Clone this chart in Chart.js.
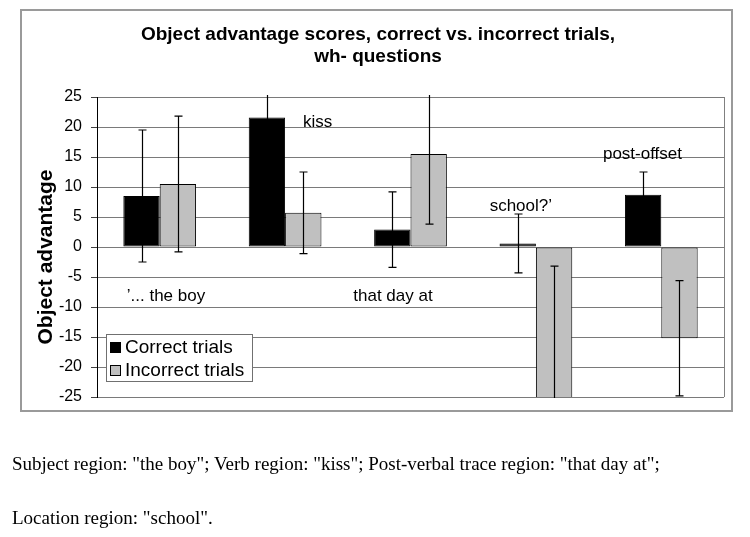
<!DOCTYPE html>
<html>
<head>
<meta charset="utf-8">
<script src="https://cdn.jsdelivr.net/npm/chart.js@4/dist/chart.umd.min.js"></script>
<style>
  html, body { margin: 0; padding: 0; background: #fff; }
  #wrap { position: relative; width: 750px; height: 537px; overflow: hidden; }
  canvas { position: absolute; left: 0; top: 0; }
  .cap { position: absolute; left: 12px; font-family: "Liberation Serif", "Times New Roman", serif; font-size: 19px; line-height: 19px; color: #000; white-space: nowrap; }
</style>
</head>
<body>
<div id="wrap">
  <canvas id="c" width="750" height="537"></canvas>
  <div class="cap" style="top:454px;">Subject region: "the boy"; Verb region: "kiss"; Post-verbal trace region: "that day at";</div>
  <div class="cap" style="top:508px;">Location region: "school".</div>
</div>
<script>
// ---- data ----
const categories = ["1", "2", "3", "4", "5"];
const seriesNames = ["Correct trials", "Incorrect trials"];
const correctValues = [8.5, 21.6, 2.9, 0.6, 8.7];
const incorrectValues = [10.5, 5.7, 15.5, -27, -15.2];
const correctErrors = [11.0, 11.0, 6.3, 4.9, 3.8];
const incorrectErrors = [11.3, 6.8, 11.7, 23.8, 9.6];
const yTicks = [25, 20, 15, 10, 5, 0, -5, -10, -15, -20, -25];
const titleLines = ["Object advantage scores, correct vs. incorrect trials,", "wh- questions"];
const yAxisTitle = "Object advantage";
// sentence-region labels placed in data coordinates (category index, value)
const wordLabels = ["\u2019... the boy", "kiss", "that day at", "school?\u2019", "post-offset"];
const wordLabelX = [0.05, 1.26, 1.86, 2.88, 3.85];
const wordLabelY = [-8.3, 20.8, -8.3, 6.8, 15.5];

const SANS = '"Liberation Sans", Arial, sans-serif';

const decor = {
  id: 'decor',
  beforeDraw(chart) {
    const ctx = chart.ctx;
    ctx.save();
    ctx.fillStyle = '#fff';
    ctx.fillRect(0, 0, chart.width, chart.height);
    ctx.strokeStyle = '#9a9a9a';
    ctx.lineWidth = 2;
    ctx.strokeRect(21, 10, 711, 401);
    ctx.restore();
  },
  afterDatasetsDraw(chart) {
    const ctx = chart.ctx;
    const ya = chart.scales.y;
    const area = chart.chartArea;
    const errs = [correctErrors, incorrectErrors];
    const vals = [correctValues, incorrectValues];
    ctx.save();
    ctx.beginPath();
    ctx.rect(area.left, area.top - 2, area.right - area.left, area.bottom - area.top + 3);
    ctx.clip();
    ctx.strokeStyle = '#000';
    ctx.lineWidth = 1.2;
    for (let d = 0; d < 2; d++) {
      const meta = chart.getDatasetMeta(d);
      meta.data.forEach((bar, i) => {
        const x = Math.round(bar.x) + 0.5;
        const yTop = ya.getPixelForValue(vals[d][i] + errs[d][i]);
        const yBot = ya.getPixelForValue(vals[d][i] - errs[d][i]);
        ctx.beginPath();
        ctx.moveTo(x, yTop); ctx.lineTo(x, yBot);
        ctx.moveTo(x - 4, yTop); ctx.lineTo(x + 4, yTop);
        ctx.moveTo(x - 4, yBot); ctx.lineTo(x + 4, yBot);
        ctx.stroke();
      });
    }
    ctx.restore();
  },
  afterDraw(chart) {
    const ctx = chart.ctx;
    const area = chart.chartArea;
    const xa = chart.scales.x;
    const ya = chart.scales.y;
    ctx.save();
    // right border of plot
    ctx.strokeStyle = '#808080';
    ctx.lineWidth = 1;
    ctx.beginPath();
    ctx.moveTo(Math.round(area.right) + 0.5, area.top);
    ctx.lineTo(Math.round(area.right) + 0.5, area.bottom);
    ctx.stroke();

    // title
    ctx.fillStyle = '#000';
    ctx.textAlign = 'center';
    ctx.textBaseline = 'alphabetic';
    ctx.font = 'bold 19px ' + SANS;
    ctx.fillText(titleLines[0], 378, 40);
    ctx.fillText(titleLines[1], 378, 62);

    // y axis title
    ctx.save();
    ctx.translate(52, 257);
    ctx.rotate(-Math.PI / 2);
    ctx.font = 'bold 21px ' + SANS;
    ctx.textAlign = 'center';
    ctx.textBaseline = 'alphabetic';
    ctx.fillText(yAxisTitle, 0, 0);
    ctx.restore();

    // word labels
    ctx.font = '17px ' + SANS;
    ctx.textAlign = 'center';
    ctx.textBaseline = 'middle';
    wordLabels.forEach((t, i) => {
      ctx.fillText(t, xa.getPixelForValue(wordLabelX[i]), ya.getPixelForValue(wordLabelY[i]));
    });

    // legend
    ctx.fillStyle = '#fff';
    ctx.fillRect(106, 334, 146, 47);
    ctx.strokeStyle = '#707070';
    ctx.lineWidth = 1;
    ctx.strokeRect(106.5, 334.5, 146, 47);
    const colors = ['#000', '#c0c0c0'];
    const rows = [347, 370];
    ctx.font = '19px ' + SANS;
    ctx.textAlign = 'left';
    ctx.textBaseline = 'middle';
    for (let k = 0; k < 2; k++) {
      ctx.fillStyle = colors[k];
      ctx.fillRect(110, rows[k] - 5, 11, 11);
      ctx.strokeStyle = '#000';
      ctx.strokeRect(110.5, rows[k] - 4.5, 10, 10);
      ctx.fillStyle = '#000';
      ctx.fillText(seriesNames[k], 125, rows[k] + 1);
    }
    ctx.restore();
  }
};

new Chart(document.getElementById('c'), {
  type: 'bar',
  data: {
    labels: categories,
    datasets: [
      { label: seriesNames[0], data: correctValues, backgroundColor: '#000', borderColor: '#000', borderWidth: 1, borderSkipped: false },
      { label: seriesNames[1], data: incorrectValues, backgroundColor: '#c0c0c0', borderColor: '#000', borderWidth: 1, borderSkipped: false }
    ]
  },
  options: {
    responsive: false,
    animation: false,
    devicePixelRatio: 1,
    layout: { padding: { left: 0, right: 26, top: 97, bottom: 140 } },
    datasets: { bar: { categoryPercentage: 0.58, barPercentage: 1.0 } },
    plugins: { legend: { display: false }, title: { display: false }, tooltip: { enabled: false } },
    scales: {
      x: { display: false, offset: true, grid: { display: false } },
      y: {
        min: -25, max: 25,
        afterFit(scale) { scale.width = 97; },
        afterBuildTicks(scale) { scale.ticks = yTicks.map(v => ({ value: v })); },
        border: { display: true, color: '#000', width: 1 },
        grid: { color: '#7a7a7a', lineWidth: 1, tickLength: 6, drawTicks: true, tickColor: '#404040' },
        ticks: { color: '#000', font: { family: SANS, size: 16 }, padding: 9 }
      }
    }
  },
  plugins: [decor]
});
</script>
</body>
</html>
